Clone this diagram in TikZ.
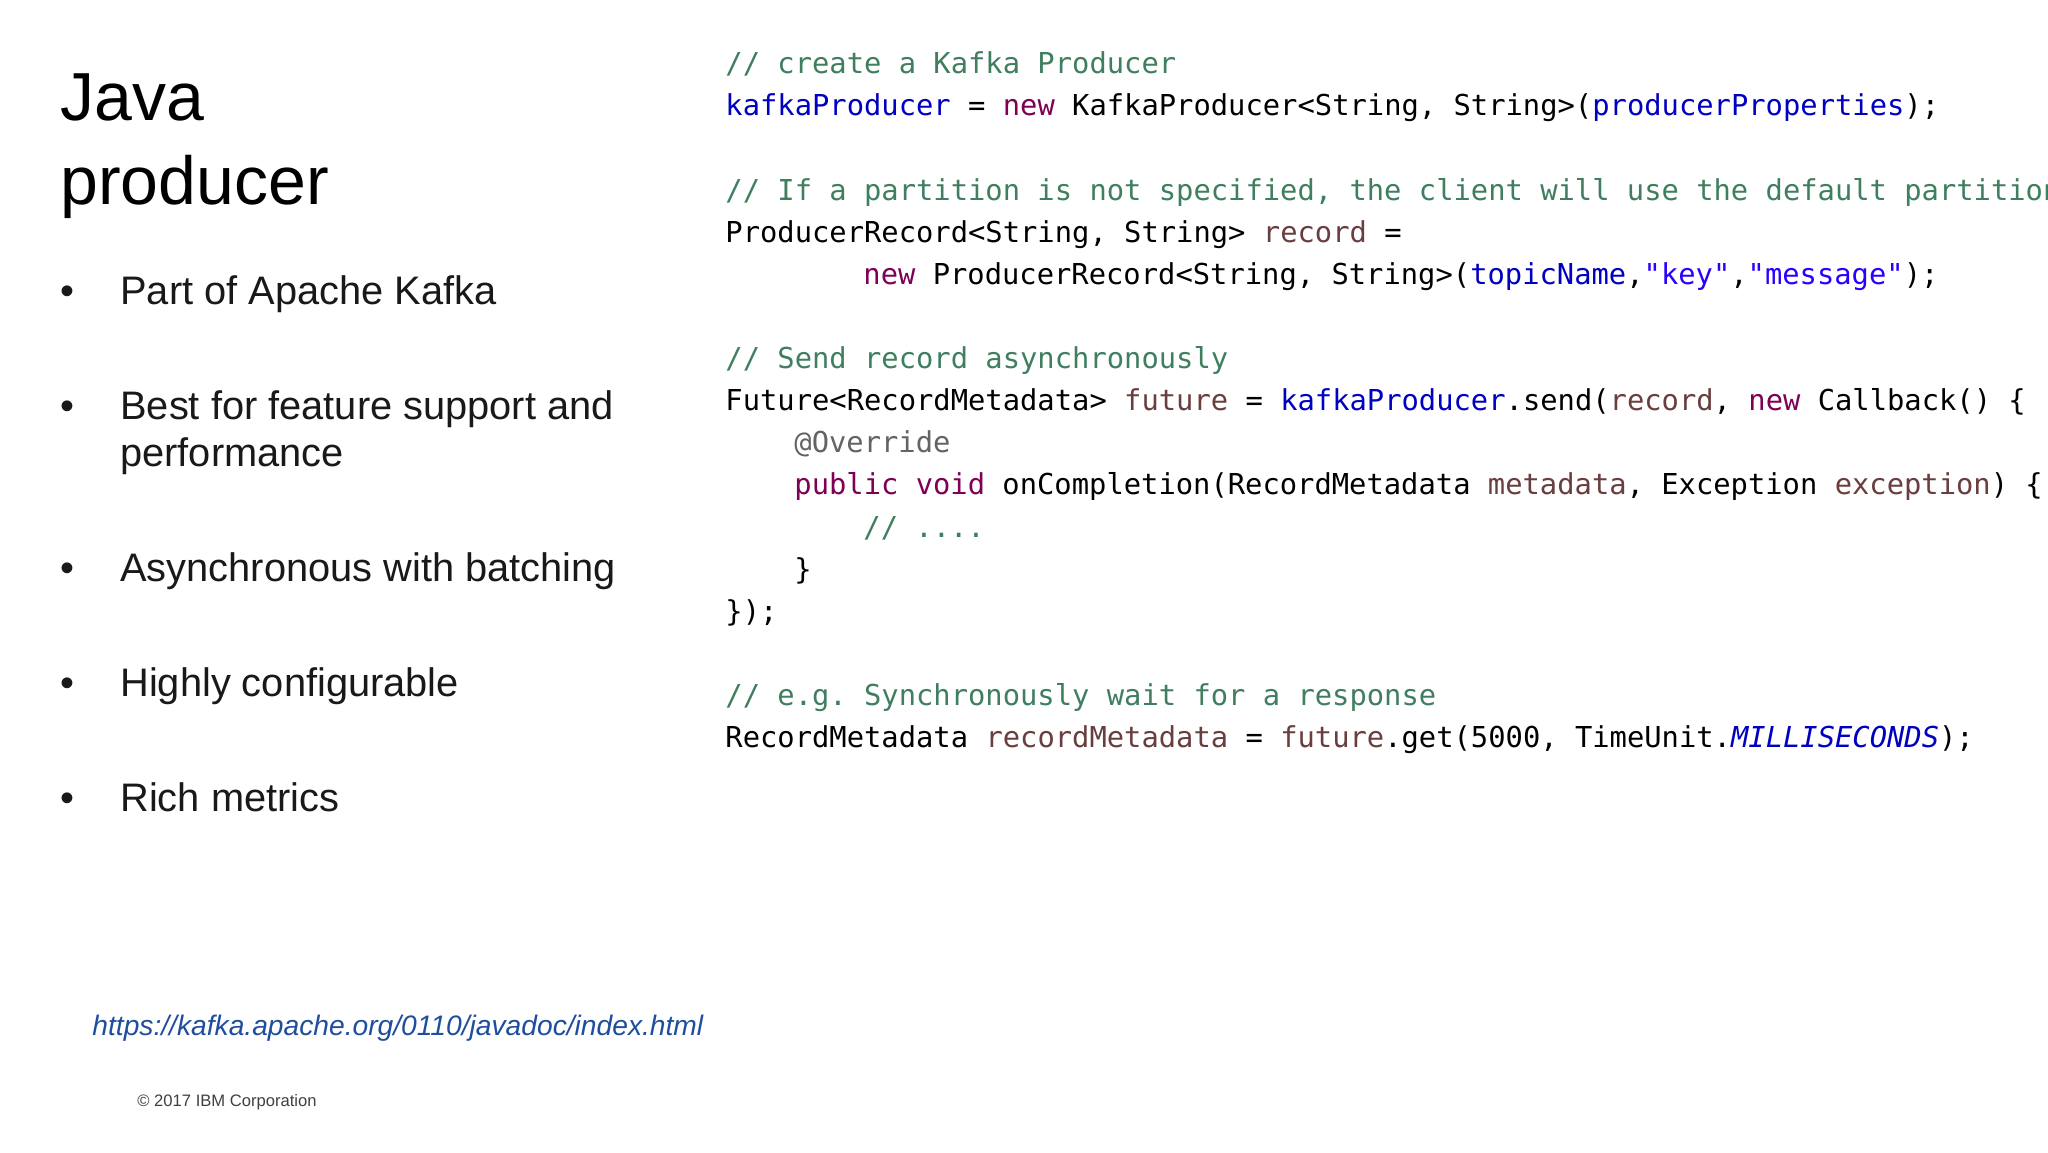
\documentclass[tikz,border=0pt]{standalone}
\usepackage{fontspec}
\setmainfont{Liberation Sans}
\newfontfamily\codefont{DejaVu Sans Mono}
\definecolor{ccomment}{HTML}{3F7F5F}
\definecolor{ckeyword}{HTML}{7F0055}
\definecolor{cfield}{HTML}{0000C0}
\definecolor{clocal}{HTML}{6A3E3E}
\definecolor{cstring}{HTML}{2A00FF}
\definecolor{cannot}{HTML}{646464}
\definecolor{urlblue}{HTML}{1F4E9E}
\newcommand\ckw[1]{\textcolor{ckeyword}{#1}}
\newcommand\ccm[1]{\textcolor{ccomment}{#1}}
\newcommand\cfd[1]{\textcolor{cfield}{#1}}
\newcommand\clv[1]{\textcolor{clocal}{#1}}
\newcommand\cst[1]{\textcolor{cstring}{#1}}
\begin{document}
\begin{tikzpicture}[x=0.5pt,y=-0.5pt,
  code/.style={anchor=base west,inner sep=0pt,font=\codefont\fontsize{14.4pt}{16pt}\selectfont,text=black},
  titletext/.style={anchor=base west,inner sep=0pt,font=\fontsize{34pt}{38pt}\selectfont},
  bullettext/.style={anchor=base west,inner sep=0pt,font=\fontsize{19.9pt}{23pt}\selectfont,text=black!90},
  bulletdot/.style={anchor=base,inner sep=0pt,font=\fontsize{19.9pt}{23pt}\selectfont,text=black!90}]
\useasboundingbox (0,0) rectangle (2048,1152);
\clip (0,0) rectangle (2048,1152);
\fill[white] (0,0) rectangle (2048,1152);
\node[titletext] (title1) at (60,120) {Java};
\node[titletext] (title2) at (60,204) {producer};
\foreach \y/\t [count=\i] in {304/Part of Apache Kafka,419/Best for feature support and,581/Asynchronous with batching,696/Highly configurable,811/Rich metrics}{
  \node[bulletdot] (d\i) at (67,\y) {•};
  \node[bullettext] (b\i) at (120,\y) {\t};
}
\node[bullettext] (b2b) at (120,466) {performance};
\node[code] (l1) at (725,73) {\ccm{// create a Kafka Producer}};
\node[code] (l2) at (725,115) {\cfd{kafkaProducer} = \ckw{new} KafkaProducer<String, String>(\cfd{producerProperties});};
\node[code] (l3) at (725,200) {\ccm{// If a partition is not specified, the client will use the default partitioner}};
\node[code] (l4) at (725,242) {ProducerRecord<String, String> \clv{record} =};
\node[code] (l5) at (863,284) {\ckw{new} ProducerRecord<String, String>(\cfd{topicName},\cst{"key"},\cst{"message"});};
\node[code] (l6) at (725,368) {\ccm{// Send record asynchronously}};
\node[code] (l7) at (725,410) {Future<RecordMetadata> \clv{future} = \cfd{kafkaProducer}.send(\clv{record}, \ckw{new} Callback() \{};
\node[code] (l8) at (794,452) {\textcolor{cannot}{@Override}};
\node[code] (l9) at (794,494) {\ckw{public void} onCompletion(RecordMetadata \clv{metadata}, Exception \clv{exception}) \{};
\node[code] (l10) at (863,537) {\ccm{// ....}};
\node[code] (l11) at (794,579) {\}};
\node[code] (l12) at (725,621) {\});};
\node[code] (l13) at (725,705) {\ccm{// e.g.\ Synchronously wait for a response}};
\node[code] (l14) at (725,747) {RecordMetadata \clv{recordMetadata} = \clv{future}.get(5000, TimeUnit.\cfd{\itshape MILLISECONDS});};
\node[anchor=base west,inner sep=0pt,font=\itshape\fontsize{14.1pt}{16pt}\selectfont,text=urlblue] (url) at (92,1035) {https://kafka.apache.org/0110/javadoc/index.html};
\node[anchor=base west,inner sep=0pt,font=\fontsize{8.3pt}{9pt}\selectfont,text=black!75] (copy) at (137,1106) {© 2017 IBM Corporation};
\end{tikzpicture}
\end{document}
